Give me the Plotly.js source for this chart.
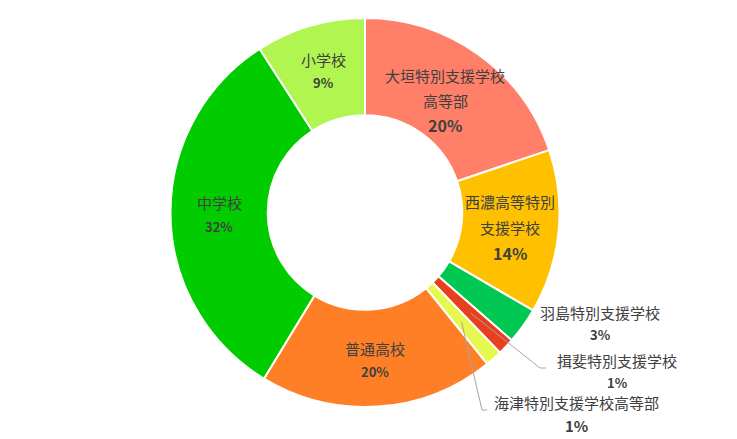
<!DOCTYPE html>
<html>
<head>
<meta charset="utf-8">
<script src="https://cdn.plot.ly/plotly-3.0.1.min.js"></script>
<style>
  body { margin: 0; background: #fff; }
  #chart { width: 737px; height: 439px; }
</style>
</head>
<body>
<div id="chart"></div>
<script>
// categories, clockwise from 12 o'clock
const schools = ['大垣特別支援学校高等部', '西濃高等特別支援学校', '羽島特別支援学校',
  '揖斐特別支援学校', '海津特別支援学校高等部', '普通高校', '中学校', '小学校'];
// share of each (percent)
const shares = [19.8, 13.6, 3.0, 1.4, 1.4, 19.5, 32.2, 9.1];
// label lines as they are wrapped in the original
const labelLines = [['大垣特別支援学校', '高等部'], ['西濃高等特別', '支援学校'], ['羽島特別支援学校'],
  ['揖斐特別支援学校'], ['海津特別支援学校高等部'], ['普通高校'], ['中学校'], ['小学校']];
const sliceColors = ['#FF7F68', '#FFC000', '#00C853', '#E8401E', '#E6F74E', '#FF7F27', '#00CC00', '#B0F550'];

const W = 737, H = 439;
const labelFont = 'Noto Sans CJK JP, Noto Sans, sans-serif';
const textColor = '#404040';

// pie placement (paper domain)
const dom = { x: [0.2307, 0.7598], y: [0.0729, 0.959] };
const cx = (dom.x[0] + dom.x[1]) / 2 * W;
const cy = H - (dom.y[0] + dom.y[1]) / 2 * H;
const rMid = 146;

const trace = {
  type: 'pie',
  labels: schools,
  values: shares,
  textinfo: 'none',
  hole: 0.5,
  sort: false,
  direction: 'clockwise',
  rotation: 0,
  marker: { colors: sliceColors, line: { color: '#ffffff', width: 2 } },
  domain: dom,
  showlegend: false,
  hoverinfo: 'label+percent'
};

const total = shares.reduce(function (a, b) { return a + b; }, 0);
let cum = 0;
const midAngles = shares.map(function (v) {
  const a = (cum + v / 2) / total * 2 * Math.PI;
  cum += v;
  return a;
});
function pct(i) { return Math.round(shares[i] / total * 100) + '%'; }

// per-slice text styling
const lineGap = [25, 26, 22, 22, 23, 23, 24, 23];
const pctSize = [16, 16, 13, 13, 15, 13, 13, 13];
const labelR = [138, 146, 146, 146, 146, 148, 146, 148];
// thin slices get their labels outside, to the lower right
const outsidePos = { 2: [600, 312], 3: [617, 360], 4: [576, 402] };

function toPaper(px, py) { return [px / W, 1 - py / H]; }

const annotations = [];
const shapes = [];
schools.forEach(function (name, i) {
  let bx, by, firstY;
  const lines = labelLines[i].concat([pct(i)]);
  if (outsidePos[i]) {
    bx = outsidePos[i][0];
    firstY = outsidePos[i][1];
  } else {
    bx = cx + labelR[i] * Math.sin(midAngles[i]);
    by = cy - labelR[i] * Math.cos(midAngles[i]);
    firstY = by - (lines.length - 1) / 2 * lineGap[i];
  }
  lines.forEach(function (t, k) {
    const isPct = k === lines.length - 1;
    const p = toPaper(bx, firstY + k * lineGap[i]);
    annotations.push({
      x: p[0], y: p[1], xref: 'paper', yref: 'paper',
      xanchor: 'center', yanchor: 'middle', showarrow: false,
      text: isPct ? '<b>' + t + '</b>' : t,
      font: { family: labelFont, size: isPct ? pctSize[i] : 15, color: textColor }
    });
  });
});

// leader lines for the two thinnest slices
const leaderEnds = { 3: [[540, 368], [546, 368]], 4: [[482, 410], [487, 410]] };
Object.keys(leaderEnds).forEach(function (key) {
  const i = +key;
  const sx = cx + rMid * Math.sin(midAngles[i]);
  const sy = cy - rMid * Math.cos(midAngles[i]);
  const pts = [[sx, sy]].concat(leaderEnds[i]).map(function (q) { return toPaper(q[0], q[1]); });
  shapes.push({
    type: 'path', xref: 'paper', yref: 'paper',
    path: 'M' + pts.map(function (q) { return q[0] + ',' + q[1]; }).join(' L'),
    line: { color: '#A6A6A6', width: 1 }
  });
});

const layout = {
  width: W,
  height: H,
  margin: { l: 0, r: 0, t: 0, b: 0 },
  paper_bgcolor: '#ffffff',
  annotations: annotations,
  shapes: shapes
};

Plotly.newPlot('chart', [trace], layout, { displayModeBar: false });
</script>
</body>
</html>
